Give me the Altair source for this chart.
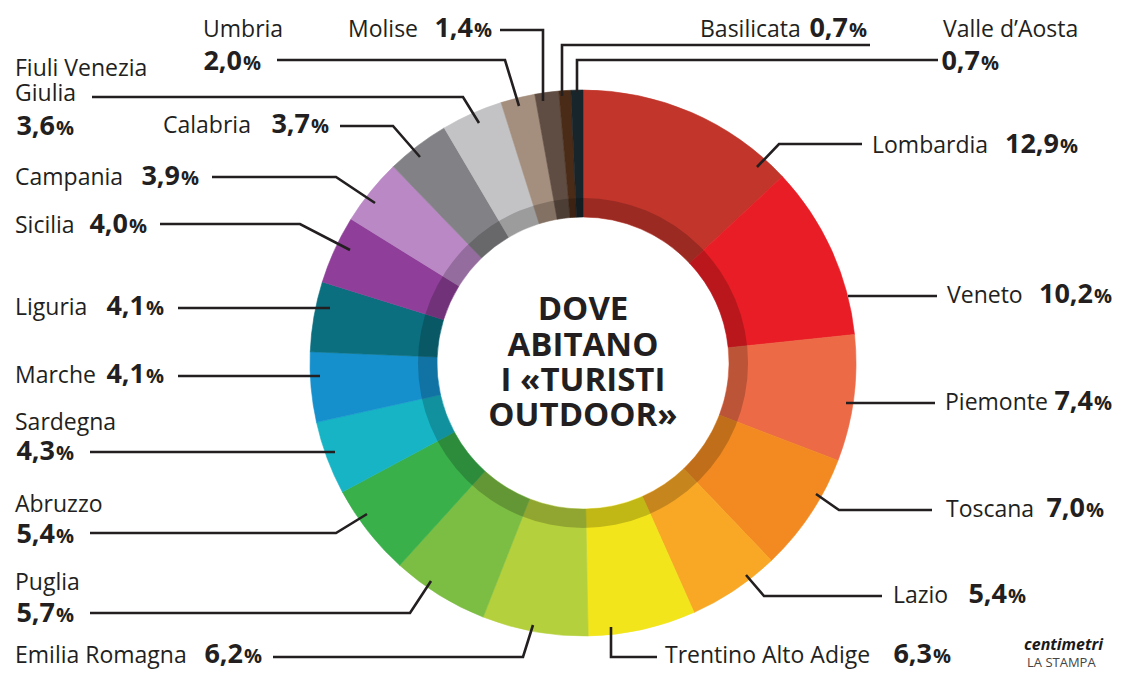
import altair as alt
import pandas as pd

# ---------------- data ----------------
regions = ["Lombardia", "Veneto", "Piemonte", "Toscana", "Lazio",
           "Trentino Alto Adige", "Emilia Romagna", "Puglia", "Abruzzo",
           "Sardegna", "Marche", "Liguria", "Sicilia", "Campania", "Calabria",
           "Fiuli Venezia Giulia", "Umbria", "Molise", "Basilicata", "Valle d’Aosta"]
shares = [12.9, 10.2, 7.4, 7.0, 5.4, 6.3, 6.2, 5.7, 5.4, 4.3,
          4.1, 4.1, 4.0, 3.9, 3.7, 3.6, 2.0, 1.4, 0.7, 0.7]
label_names = ["Lombardia", "Veneto", "Piemonte", "Toscana", "Lazio",
               "Trentino Alto Adige", "Emilia Romagna", "Puglia", "Abruzzo",
               "Sardegna", "Marche", "Liguria", "Sicilia", "Campania", "Calabria",
               "Fiuli Venezia\nGiulia", "Umbria", "Molise", "Basilicata", "Valle d’Aosta"]
title_lines = ["DOVE", "ABITANO", "I «TURISTI", "OUTDOOR»"]
logo_top = ["centimetri"]
logo_bottom = ["LA STAMPA"]

# ---------------- styles ----------------
colors = ["#c1352b", "#e91d25", "#ec6a46", "#f28a21", "#f9a825",
          "#f2e51b", "#b5d03d", "#7cbd43", "#39b04a", "#16b4c5",
          "#1590cc", "#0b6f7f", "#8f3f99", "#b988c5", "#828286",
          "#c3c3c5", "#a48e7e", "#5f4d43", "#4a2b18", "#18252b"]
INK = "#231f20"

# ---------------- layout (page pixel coordinates) ----------------
CX, CY = 583, 363
R_OUT, R_BAND, R_IN = 273, 165, 146
name_pos = [(872, 153), (947, 303), (945, 410), (946, 517), (893, 603),
            (665, 663), (15, 663), (15, 590), (15, 512), (15, 430),
            (15, 383), (15, 315), (15, 233), (15, 185), (163, 133),
            (15, 76), (203, 37), (348, 37), (700, 37), (943, 37)]
pct_pos = [(1060, 153), (1094, 303), (1094, 410), (1086, 517), (1008, 603),
           (933, 663), (244, 663), (56, 622), (56, 543), (56, 460),
           (146, 383), (146, 315), (129, 233), (181, 185), (311, 133),
           (56, 135), (243, 70), (474, 37), (849, 37), (981, 70)]
leaders = [
    [(862, 144), (779, 144), (757, 167)],
    [(937, 296), (848, 296)],
    [(935, 403), (846, 403)],
    [(932, 510), (839, 510), (816, 494)],
    [(882, 596), (764, 596), (746, 575)],
    [(657, 657), (611, 657), (611, 627)],
    [(273, 657), (523, 657), (533, 625)],
    [(90, 613), (410, 613), (431, 581)],
    [(90, 533), (336, 533), (367, 514)],
    [(90, 452), (335, 452)],
    [(178, 376), (320, 376)],
    [(178, 308), (330, 308)],
    [(160, 224), (300, 224), (350, 250)],
    [(212, 177), (336, 177), (375, 203)],
    [(340, 126), (393, 126), (420, 157)],
    [(92, 97), (463, 97), (479, 123)],
    [(277, 60), (505, 60), (519, 106)],
    [(500, 30), (543, 30), (543, 101)],
    [(870, 45), (562, 45), (562, 96)],
    [(938, 60), (577, 60), (577, 92)],
]
title_y = [320, 356, 391, 426]
logo_top_pos = [(1024, 650)]
logo_bottom_pos = [(1027, 667)]

W, H = 1107, 662
xs = alt.Scale(domain=[8, 8 + W], nice=False, zero=False)
ys = alt.Scale(domain=[8, 8 + H], reverse=True, nice=False, zero=False)

# ---------------- tables ----------------
slices = pd.DataFrame({"region": regions, "share": shares, "idx": range(len(regions))})
names_df = pd.DataFrame({"x": [p[0] for p in name_pos], "y": [p[1] for p in name_pos],
                         "text": label_names})
vals_df = pd.DataFrame({"x": [p[0] - 1 for p in pct_pos], "y": [p[1] for p in pct_pos],
                        "text": [f"{v:.1f}".replace(".", ",") for v in shares]})
pct_df = pd.DataFrame({"x": [p[0] for p in pct_pos], "y": [p[1] for p in pct_pos],
                       "text": ["%"] * len(shares)})
rows = []
for r, pts in zip(regions, leaders):
    for i, (x, y) in enumerate(pts):
        rows.append({"region": r, "seq": i, "x": x, "y": y})
lines_df = pd.DataFrame(rows)
title_df = pd.DataFrame({"x": [CX] * 4, "y": title_y, "text": title_lines})
logo1_df = pd.DataFrame({"x": [p[0] for p in logo_top_pos], "y": [p[1] for p in logo_top_pos],
                         "text": logo_top})
logo2_df = pd.DataFrame({"x": [p[0] for p in logo_bottom_pos], "y": [p[1] for p in logo_bottom_pos],
                         "text": logo_bottom})

cx_enc = dict(x=alt.XDatum(CX, scale=xs, axis=None), y=alt.YDatum(CY, scale=ys, axis=None))
cscale = alt.Scale(domain=regions, range=colors)

donut = alt.Chart(slices).mark_arc(radius=R_OUT, radius2=R_IN, strokeWidth=0.6).encode(
    theta=alt.Theta("share:Q", stack=True),
    order=alt.Order("idx:Q"),
    color=alt.Color("region:N", scale=cscale, legend=None),
    stroke=alt.Stroke("region:N", scale=cscale, legend=None),
    **cx_enc,
)
band = alt.Chart(pd.DataFrame({"k": [1]})).mark_arc(
    theta=0, theta2=6.2832, radius=R_BAND, radius2=R_IN, color="#000000", opacity=0.2
).encode(**cx_enc)

leader = alt.Chart(lines_df).mark_line(strokeWidth=2.6, color=INK, strokeCap="butt").encode(
    x=alt.X("x:Q", scale=xs, axis=None),
    y=alt.Y("y:Q", scale=ys, axis=None),
    detail="region:N",
    order="seq:Q",
)

def txt(df, **kw):
    kw.setdefault("color", INK)
    return alt.Chart(df).mark_text(baseline="alphabetic", font="Open Sans", **kw).encode(
        x=alt.X("x:Q", scale=xs, axis=None),
        y=alt.Y("y:Q", scale=ys, axis=None),
        text="text:N",
    )

names = txt(names_df, align="left", fontSize=23, lineBreak="\n", lineHeight=25)
vals = txt(vals_df, align="right", fontSize=27, fontWeight="bold")
pcts = txt(pct_df, align="left", fontSize=20, fontWeight="bold")
title = txt(title_df, align="center", fontSize=33, fontWeight="bold")
logo1 = txt(logo1_df, align="left", fontSize=16, fontWeight="bold", fontStyle="italic", color="#1a1a1a")
logo2 = txt(logo2_df, align="left", fontSize=13, color="#444444")

chart = alt.layer(donut, band, leader, names, vals, pcts, title, logo1, logo2).properties(
    width=W, height=H, padding=0, autosize=alt.AutoSizeParams(type="none"), background="white"
).configure_view(stroke=None)

chart.save("out.html", embed_options={"renderer": "svg", "actions": False})
